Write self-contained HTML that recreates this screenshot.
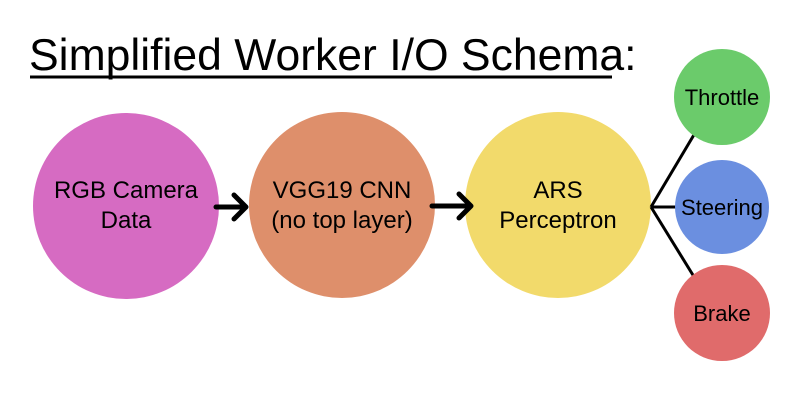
<!DOCTYPE html>
<html><head><meta charset="utf-8"><style>
html,body{margin:0;padding:0;background:#fff;}
</style></head><body>
<svg width="800" height="400" xmlns="http://www.w3.org/2000/svg" font-family="Liberation Sans, sans-serif">
<rect width="800" height="400" fill="#fff"/>
<text x="29" y="70" font-size="44.5" fill="#000">Simplified Worker I/O Schema:</text>
<line x1="30" y1="77" x2="612" y2="77" stroke="#000" stroke-width="3"/>
<circle cx="126" cy="206" r="93" fill="#D66BC2"/>
<circle cx="342" cy="205" r="93" fill="#DE8F6B"/>
<circle cx="558" cy="205" r="93" fill="#F2DA6B"/>
<g stroke="#000" stroke-width="3">
<line x1="651" y1="207" x2="698" y2="128"/>
<line x1="651" y1="207" x2="676" y2="207"/>
<line x1="651" y1="207" x2="696" y2="280"/>
</g>
<circle cx="722" cy="97" r="48" fill="#6BCB6B"/>
<circle cx="722" cy="207" r="47" fill="#6B8FE0"/>
<circle cx="722" cy="313" r="48" fill="#E06B6B"/>
<g stroke="#000" stroke-width="5" fill="none" stroke-linecap="round" stroke-linejoin="round">
<line x1="216" y1="207" x2="244" y2="207"/>
<polyline points="234,195 246,207 234,219"/>
<line x1="432" y1="206" x2="469" y2="206"/>
<polyline points="459,194 471,206 459,218"/>
</g>
<g font-size="24" fill="#000" text-anchor="middle">
<text x="126" y="198">RGB Camera</text>
<text x="126" y="228">Data</text>
<text x="342" y="198">VGG19 CNN</text>
<text x="342" y="228">(no top layer)</text>
<text x="558" y="198">ARS</text>
<text x="558" y="228">Perceptron</text>
<text x="722" y="105" font-size="22">Throttle</text>
<text x="722" y="215" font-size="22">Steering</text>
<text x="722" y="321" font-size="22">Brake</text>
</g>
</svg>
</body></html>
